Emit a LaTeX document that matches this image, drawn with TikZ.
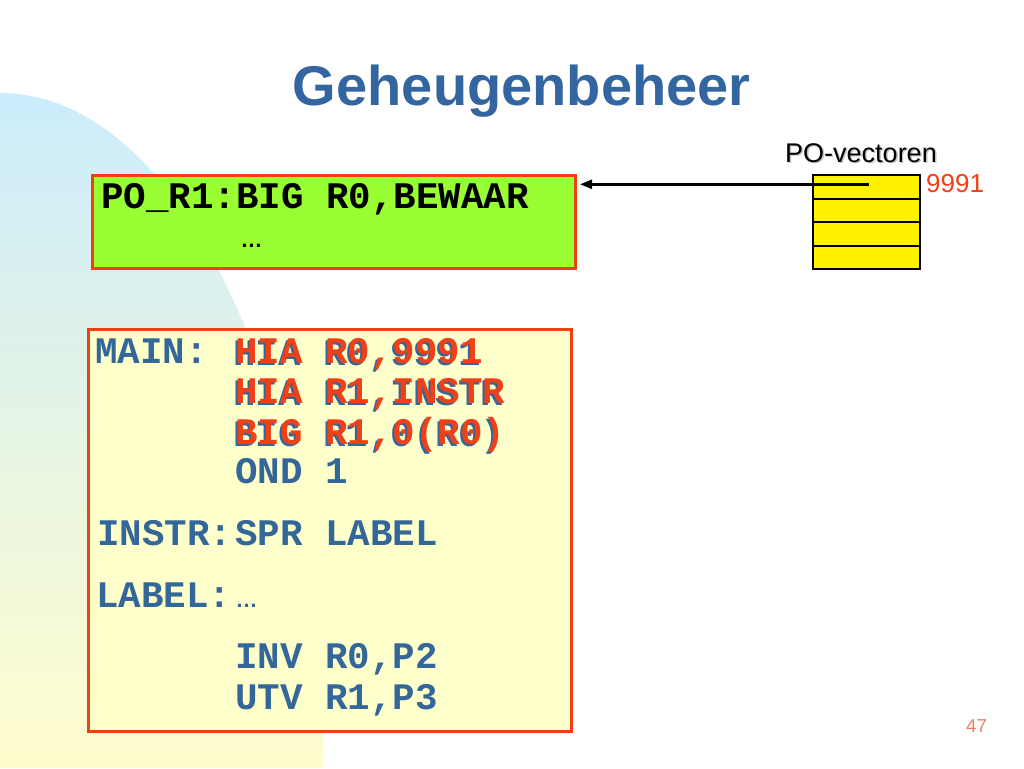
\documentclass[tikz,border=0pt]{standalone}
\usepackage{fontspec}
\setmainfont{Liberation Sans}
\newfontfamily\codefont{Liberation Mono}
\usetikzlibrary{arrows.meta}
\definecolor{titleblue}{RGB}{51,102,160}
\definecolor{codeblue}{RGB}{51,102,153}
\definecolor{codered}{RGB}{240,64,24}
\definecolor{boxred}{RGB}{240,64,16}
\definecolor{limegreen}{RGB}{153,255,51}
\definecolor{paleyellow}{RGB}{255,255,204}
\definecolor{bgblue}{RGB}{204,236,252}
\definecolor{bgmid}{RGB}{228,244,228}
\definecolor{bgyellow}{RGB}{255,253,205}
\definecolor{pagenum}{RGB}{240,128,96}
\begin{document}
\begin{tikzpicture}[x=1pt,y=-1pt,
  code/.style={font=\codefont\bfseries\fontsize{37.5}{37.5}\selectfont, anchor=base west, inner sep=0pt},
  bluecode/.style={code, text=codeblue},
  redcode/.style={code, text=codered},
  shadowcode/.style={code, text=codeblue},
  blackcode/.style={code, text=black},
  dots/.style={font=\bfseries\fontsize{22}{22}\selectfont, anchor=base west, inner sep=0pt},
  codebox/.style={draw=boxred, line width=3pt, minimum width=483pt, inner sep=0pt, anchor=north west},
  vcell/.style={draw=black, fill=yellow, line width=2pt, minimum width=107pt, minimum height=23.5pt, inner sep=0pt, anchor=north west},
  sanslabel/.style={anchor=base west, inner sep=0pt}
]
\useasboundingbox (0,0) rectangle (1024,768);
\fill[white] (0,0) rectangle (1024,768);
% background shape
\shade[top color=bgblue, middle color=bgmid, bottom color=bgyellow]
  (0,93) .. controls (182,93) and (323,400) .. (323,768) -- (0,768) -- cycle;

% title
\node[font=\bfseries\fontsize{56}{56}\selectfont, text=titleblue, anchor=base, inner sep=0pt] (title) at (521.7,105) {Geheugenbeheer};

% green box
\node[codebox, fill=limegreen, minimum height=93pt] (pobox) at (91,174) {};
\node[blackcode] (poline) at (101,208.3) {PO\_R1:BIG R0,BEWAAR};
\node[dots, text=black] (podots) at (240.5,247) {…};

% PO vector table
\node[sanslabel, text=gray!45, font=\fontsize{27}{27}\selectfont] (povshadow) at (786.5,163.8) {PO-vectoren};
\node[sanslabel, text=black, font=\fontsize{27}{27}\selectfont] (povlabel) at (785,162.3) {PO-vectoren};
\node[vcell] (v1) at (812,174) {};
\node[vcell] (v2) at (812,197.5) {};
\node[vcell] (v3) at (812,221) {};
\node[vcell] (v4) at (812,244.5) {};
\node[sanslabel, text=codered, font=\fontsize{26}{26}\selectfont] (addr) at (926,192.3) {9991};

% arrow
\coordinate (vstart) at (869,184.3);
\draw[line width=2.5pt, -{Triangle[length=12pt,width=9pt]}] (vstart) -- ([xshift=3pt]pobox.east |- vstart);

% code box
\node[codebox, fill=paleyellow, minimum height=402pt] (mainbox) at (87,328) {};
\node[bluecode] (lmain) at (95,363.3) {MAIN:};
\node[shadowcode] (s1) at (233,365.3) {HIA R0,9991};
\node[redcode] (c1) at (235,363.3) {HIA R0,9991};
\node[shadowcode] (s2) at (233,405) {HIA R1,INSTR};
\node[redcode] (c2) at (235,403) {HIA R1,INSTR};
\node[shadowcode] (s3) at (233,446) {BIG R1,0(R0)};
\node[redcode] (c3) at (235,444) {BIG R1,0(R0)};
\node[bluecode] (c4) at (235,483) {OND 1};
\node[bluecode] (linstr) at (97,545) {INSTR:};
\node[bluecode] (c5) at (235,545) {SPR LABEL};
\node[bluecode] (llabel) at (96,607) {LABEL:};
\node[dots, text=codeblue] (c6) at (235.5,607) {…};
\node[bluecode] (c7) at (235,668) {INV R0,P2};
\node[bluecode] (c8) at (235,709) {UTV R1,P3};

% page number
\node[sanslabel, text=pagenum, font=\fontsize{18.7}{18.7}\selectfont] (pnum) at (966,732.7) {47};
\end{tikzpicture}
\end{document}
